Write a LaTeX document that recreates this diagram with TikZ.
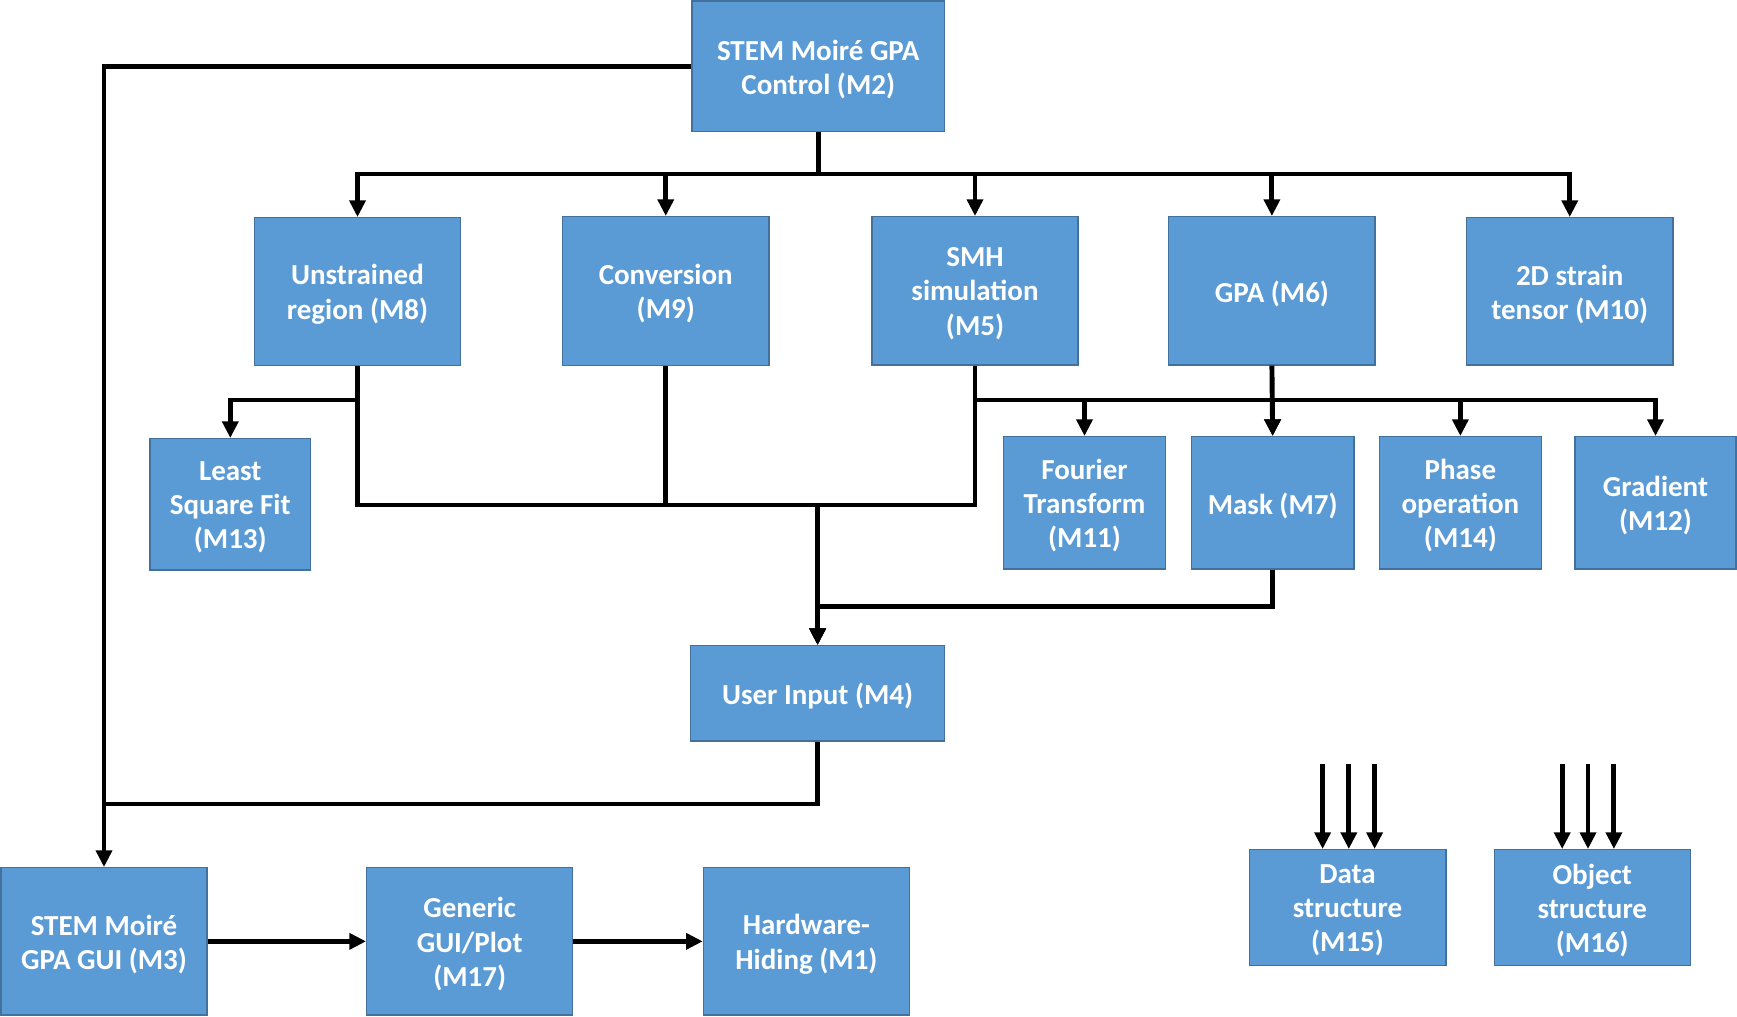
\documentclass[tikz,border=0pt]{standalone}
\usepackage{fontspec}
\setmainfont{Carlito}
\usetikzlibrary{arrows.meta,calc}
\definecolor{boxfill}{HTML}{5B9BD5}
\definecolor{boxline}{HTML}{41719C}
\newcommand\boxnode[6]{%
  \node[box, minimum width=#2cm, minimum height=#3cm] (#1) at (#4,#5) {};
  \node[txt] (#1t) at ([yshift=-1.6pt]#1.center) {#6};}
\begin{document}
\begin{tikzpicture}[x=0.02cm,y=-0.02cm,
  box/.style={draw=boxline, fill=boxfill, line width=0.8pt, inner sep=0pt, anchor=center},
  txt/.style={inner sep=0pt, text=white, align=center, anchor=center,
    font=\bfseries\fontsize{16.5}{19.5}\selectfont},
  conn/.style={line width=2.8pt, line join=miter, draw=black},
  arr/.style={conn, -{Triangle[width=9pt,length=9.5pt]}}]
\useasboundingbox (0,0) rectangle (1737,1017);
% boxes
\boxnode{m2}{5.05}{2.614}{818.25}{66.35}{STEM Moiré GPA\\Control (M2)}
\boxnode{m8}{4.12}{2.952}{357.5}{291.5}{Unstrained\\region (M8)}
\boxnode{m9}{4.13}{2.972}{665.75}{291}{Conversion\\(M9)}
\boxnode{m5}{4.12}{2.966}{975}{290.85}{SMH\\simulation\\(M5)}
\boxnode{m6}{4.132}{2.966}{1271.9}{290.85}{GPA (M6)}
\boxnode{m10}{4.13}{2.946}{1569.75}{291.35}{2D strain\\tensor (M10)}
\boxnode{m13}{3.212}{2.626}{230.3}{504.35}{Least\\Square Fit\\(M13)}
\boxnode{m11}{3.236}{2.646}{1084.5}{502.85}{Fourier\\Transform\\(M11)}
\boxnode{m7}{3.246}{2.646}{1272.65}{502.85}{Mask (M7)}
\boxnode{m14}{3.234}{2.646}{1460.35}{502.85}{Phase\\operation\\(M14)}
\boxnode{m12}{3.22}{2.646}{1655.5}{502.85}{Gradient\\(M12)}
\boxnode{m4}{5.076}{1.906}{817.6}{693.35}{User Input (M4)}
\boxnode{m3}{4.12}{2.946}{104}{941.35}{STEM Moiré\\GPA GUI (M3)}
\boxnode{m17}{4.12}{2.946}{469.7}{941.35}{Generic\\GUI/Plot\\(M17)}
\boxnode{m1}{4.12}{2.946}{806.4}{941.35}{Hardware-\\Hiding (M1)}
\boxnode{m15}{3.932}{2.312}{1347.5}{907.5}{Data\\structure\\(M15)}
\boxnode{m16}{3.916}{2.312}{1592.3}{907.5}{Object\\structure\\(M16)}
% junction coordinates
\coordinate (bus) at (818.25,174);
\coordinate (c13) at (357.5,400);
\coordinate (c6) at (975,400);
\coordinate (c5) at (817.6,505);
\coordinate (c7) at (817.6,606.7);
\coordinate (j4) at (104,804);
% connectors
\draw[arr] (m2.west) -| (m3.north);
\draw[conn] (m4.south) |- (j4);
\draw[arr] (m2.south) -- (bus) -| (m8.north);
\draw[arr] (bus) -| (m9.north);
\draw[arr] (bus) -| (m5.north);
\draw[arr] (bus) -| (m6.north);
\draw[arr] (bus) -| (m10.north);
\draw[arr] (m8.south) -- (c13) -| (m13.north);
\draw[arr] (m8.south) |- (c5) -- (m4.north);
\draw[conn] (m9.south) |- (c5);
\draw[arr] (m5.south) |- (c5) -- (m4.north);
\draw[arr] (c6) -| (m11.north);
\draw[arr] (c6) -| (m7.north);
\draw[arr] (c6) -| (m14.north);
\draw[arr] (c6) -| (m12.north);
\draw[arr] (m6.south) -- (m7.north);
\draw[arr] (m7.south) |- (c7) -- (m4.north);
\draw[arr] (m3.east) -- (m17.west);
\draw[arr] (m17.east) -- (m1.west);
% free arrows into M15 / M16
\coordinate (s1) at (1322.6,764);
\coordinate (s2) at (1348.8,764);
\coordinate (s3) at (1374.6,764);
\coordinate (s4) at (1562.2,764);
\coordinate (s5) at (1588,764);
\coordinate (s6) at (1613.9,764);
\draw[arr] (s1) -- (s1 |- m15.north);
\draw[arr] (s2) -- (s2 |- m15.north);
\draw[arr] (s3) -- (s3 |- m15.north);
\draw[arr] (s4) -- (s4 |- m16.north);
\draw[arr] (s5) -- (s5 |- m16.north);
\draw[arr] (s6) -- (s6 |- m16.north);
\end{tikzpicture}
\end{document}
